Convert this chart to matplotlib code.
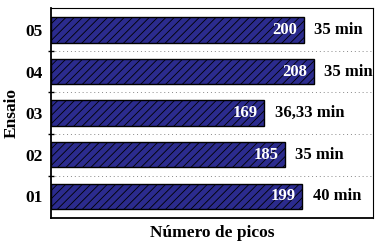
import numpy as np
import matplotlib.pyplot as plt

ensaios = ['01', '02', '03', '04', '05']
picos = [199, 185, 169, 208, 200]
tempos = ['40 min', '35 min', '36,33 min', '35 min', '35 min']

plt.rcParams['font.family'] = ['Liberation Serif', 'DejaVu Serif']
plt.rcParams['font.weight'] = 'bold'
plt.rcParams['hatch.color'] = '#20207a'
plt.rcParams['hatch.linewidth'] = 0.6

fig = plt.figure(figsize=(3.82, 2.44), dpi=100)
ax = fig.add_axes([0.1335, 0.1066, 0.843, 0.861])

y = np.arange(1, len(ensaios) + 1)
ax.barh(y, picos, height=0.61, color='#2b2b8e', edgecolor='black',
        linewidth=1.0, hatch='////')

for yi, v, t in zip(y, picos, tempos):
    ax.text(v - 5, yi, str(v), color='white', fontsize=12, fontweight='bold',
            ha='right', va='center')
    ax.text(v + 8.5, yi, t, color='black', fontsize=12, fontweight='bold',
            ha='left', va='center')

ax.set_xlim(0, 255)
ax.set_ylim(0.48, 5.53)
ax.set_xticks([])
ax.set_yticks(y)
ax.set_yticklabels(ensaios, fontsize=12.5, fontweight='bold')
ax.tick_params(axis='y', which='major', length=0, pad=6)
ax.set_yticks(np.arange(1.5, 5.5, 1), minor=True)
ax.tick_params(axis='y', which='minor', length=4, direction='inout', width=1)
ax.grid(axis='y', which='minor', linestyle=(0, (1, 3)), color='#888888', linewidth=0.7)
ax.set_axisbelow(True)

for s in ax.spines.values():
    s.set_linewidth(0.8)
ax.spines['left'].set_linewidth(1.3)
ax.spines['bottom'].set_linewidth(1.3)

ax.set_xlabel('Número de picos', fontsize=12.5, fontweight='bold', labelpad=5)
ax.set_ylabel('Ensaio', fontsize=12.5, fontweight='bold', labelpad=4)

fig.savefig('out.png', dpi=100)
